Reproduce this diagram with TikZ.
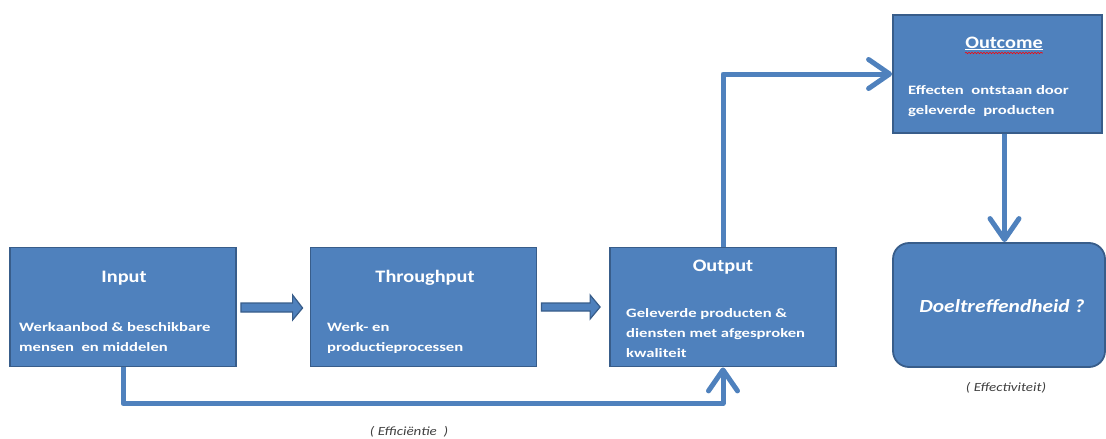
\documentclass[tikz,border=0pt]{standalone}
\usepackage{fontspec}
\setmainfont{Carlito}
\newfontfamily\ttlfont{Carlito}[FakeStretch=1.16]
\newfontfamily\bodyfont{Carlito}[FakeStretch=1.30]
\newfontfamily\lblfont{Carlito}[FakeStretch=1.2]
\usetikzlibrary{arrows.meta,calc,decorations.pathmorphing}
\definecolor{boxblue}{HTML}{4F81BD}
\definecolor{boxedge}{HTML}{385D8A}
\definecolor{lblgray}{HTML}{404040}
\begin{document}
\begin{tikzpicture}[x=1pt,y=-1pt,
  box/.style={rectangle, draw=boxedge, line width=1.8pt, fill=boxblue,
    minimum width=226pt, minimum height=119pt, inner sep=0pt},
  ttl/.style={text=white, font=\ttlfont\bfseries\fontsize{17.5}{19}\selectfont,
    inner sep=0pt, anchor=base},
  body/.style={text=white, font=\bodyfont\bfseries\fontsize{12.8}{20}\selectfont,
    align=left, anchor=north west, inner sep=0pt},
  conn/.style={draw=boxblue, line width=5pt, line join=round,
    -{Straight Barb[length=21pt,width=29pt,round]}},
  blk/.style={fill=boxblue, draw=boxedge, line width=1.2pt, line join=miter},
  lbl/.style={text=lblgray, font=\lblfont\itshape\fontsize{12.5}{14}\selectfont,
    inner sep=0pt}]
\useasboundingbox (0,0) rectangle (1106,439);

% boxes
\node[box] (in)  at (123,307) {};
\node[box] (thr) at (423.5,307) {};
\node[box] (op)  at (723,307) {};
\node[box, minimum width=209pt, minimum height=118pt] (oc) at (997.5,74) {};
\node[box, minimum width=212pt, minimum height=124pt, rounded corners=16pt] (doel) at (999,305) {};

% titles
\node[ttl] (tin)  at (124,282) {Input};
\node[ttl] (tthr) at (425,282) {Throughput};
\node[ttl] (top)  at (723,271) {Output};
\node[ttl] (toc)  at (1004,48) {\underline{Outcome}};
\draw[red, line width=0.6pt, decorate,
  decoration={snake, amplitude=0.7pt, segment length=3pt}]
  ([shift={(0,5)}]toc.base west) -- ([shift={(0,5)}]toc.base east);
\node[text=white, font=\ttlfont\bfseries\itshape\fontsize{18.5}{20}\selectfont,
  inner sep=0pt, anchor=base] (tdoel) at (1002,312) {Doeltreffendheid ?};

% body texts
\node[body] (bin)  at (19,317) {\strut Werkaanbod \& beschikbare\\mensen\ \ en middelen};
\node[body] (bthr) at (327,317) {\strut Werk- en\\productieprocessen};
\node[body] (bop)  at (626,303) {\strut Geleverde producten \&\\diensten met afgesproken\\kwaliteit};
\node[body] (boc)  at (908,80) {\strut Effecten\ \ ontstaan door\\geleverde\ \ producten};

% block arrows
\draw[blk] ([shift={(4,-4)}]in.east) -- ([shift={(-17,-4)}]thr.west)
  -- ([shift={(-17,-12)}]thr.west) -- ([shift={(-7,1)}]thr.west)
  -- ([shift={(-17,13)}]thr.west) -- ([shift={(-17,5)}]thr.west)
  -- ([shift={(4,5)}]in.east) -- cycle;
\draw[blk] ([shift={(4,-4)}]thr.east) -- ([shift={(-19,-4)}]op.west)
  -- ([shift={(-19,-12)}]op.west) -- ([shift={(-9,0)}]op.west)
  -- ([shift={(-19,12)}]op.west) -- ([shift={(-19,4)}]op.west)
  -- ([shift={(4,4)}]thr.east) -- cycle;

% line connectors
\draw[conn] (in.south) -- ++(0,36) -| (op.south);
\draw[conn] (op.north) |- (oc.west);
\draw[conn] ([xshift=7]oc.south) -- ([xshift=7]oc.south |- doel.north);

% labels
\node[lbl] (eff) at (409,432) {( Efficiëntie\ \ )};
\node[lbl] (effe) at (1006,388) {( Effectiviteit)};
\end{tikzpicture}
\end{document}
